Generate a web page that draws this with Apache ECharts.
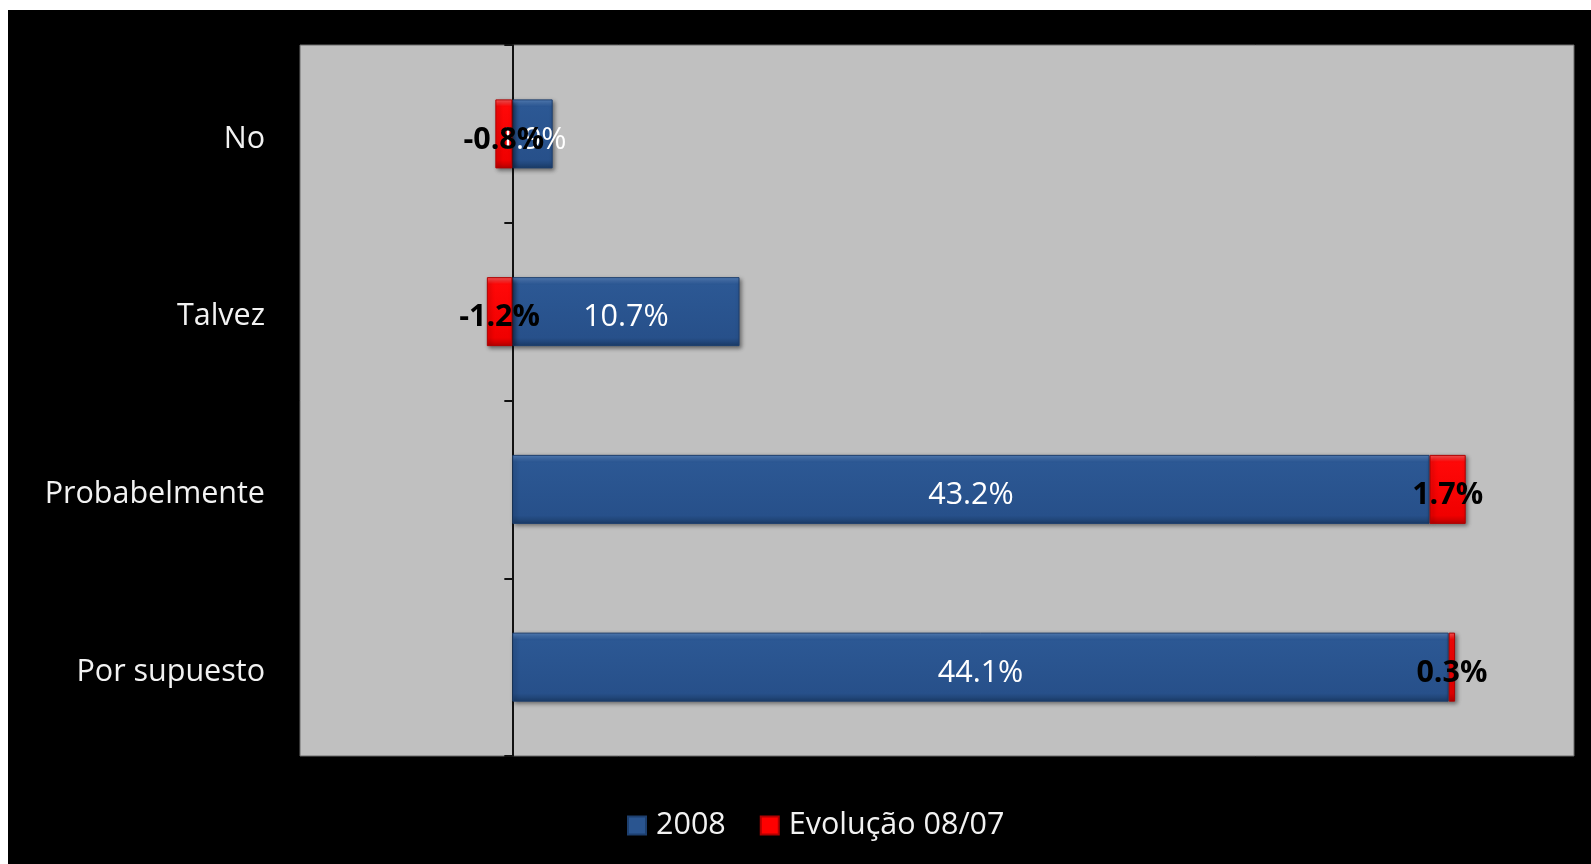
<!DOCTYPE html>
<html>
<head>
<meta charset="utf-8">
<script src="https://cdn.jsdelivr.net/npm/echarts@6/dist/echarts.min.js"></script>
<style>
  html, body { margin: 0; padding: 0; background: #ffffff; }
  #main { position: absolute; left: 8px; top: 10px; width: 1583px; height: 854px; background: #000; }
</style>
</head>
<body>
<div id="main"></div>
<script>
// categorias (de cima para baixo)
var categorias = ['No', 'Talvez', 'Probabelmente', 'Por supuesto'];
var valores2008 = [1.9, 10.7, 43.2, 44.1];
var evolucao = [-0.8, -1.2, 1.7, 0.3];

var myChart = echarts.init(document.getElementById('main'));

var fonte = '"Open Sans", "Noto Sans", sans-serif';
var tamanho = 30.5;

var azul = new echarts.graphic.LinearGradient(0, 0, 0, 1, [
    { offset: 0, color: '#5784c0' },
    { offset: 0.1, color: '#2c5894' },
    { offset: 0.88, color: '#27508a' },
    { offset: 1, color: '#1b3c68' }
]);
var vermelho = new echarts.graphic.LinearGradient(0, 0, 0, 1, [
    { offset: 0, color: '#ff5a5a' },
    { offset: 0.1, color: '#ff0808' },
    { offset: 0.88, color: '#f00000' },
    { offset: 1, color: '#b80000' }
]);

var option = {
    backgroundColor: '#000',
    animation: false,
    grid: {
        left: 292,
        right: 17,
        top: 35,
        bottom: 108,
        show: true,
        backgroundColor: '#c0c0c0',
        borderColor: '#6a6a6a',
        borderWidth: 1
    },
    legend: {
        top: 800,
        left: 619,
        padding: 0,
        itemWidth: 18,
        itemHeight: 18,
        itemGap: 34,
        icon: 'rect',
        textStyle: { color: '#f2f2f2', fontSize: tamanho, fontFamily: fonte, padding: [0, 0, 0, 5] },
        data: [
            { name: '2008', itemStyle: { color: '#2a5590' } },
            { name: 'Evolução 08/07', itemStyle: { color: '#ff0000' } }
        ]
    },
    xAxis: {
        type: 'value',
        min: -10,
        max: 50,
        show: false,
        splitLine: { show: false }
    },
    yAxis: [{
        type: 'category',
        data: categorias,
        inverse: true,
        position: 'left',
        axisLine: { show: false, onZero: false },
        axisTick: { show: false },
        axisLabel: {
            color: '#f2f2f2',
            fontSize: tamanho,
            fontFamily: fonte,
            margin: 35,
            verticalAlign: 'top',
            lineHeight: 10
        }
    }, {
        type: 'category',
        data: categorias,
        inverse: true,
        position: 'left',
        axisLine: { show: true, onZero: true, lineStyle: { color: '#111', width: 2 } },
        axisTick: { show: true, length: 8, lineStyle: { color: '#111', width: 2 } },
        axisLabel: { show: false }
    }],
    series: [{
        name: '2008',
        type: 'bar',
        stack: 'total',
        barWidth: 69,
        data: valores2008,
        itemStyle: {
            color: azul,
            borderColor: '#1d3f6e',
            borderWidth: 1,
            shadowColor: 'rgba(0,0,0,0.45)',
            shadowBlur: 4,
            shadowOffsetX: 2,
            shadowOffsetY: 2
        },
        label: {
            show: true,
            position: 'inside',
            offset: [0, 6],
            color: '#ffffff',
            fontSize: tamanho,
            fontFamily: fonte,
            formatter: function (p) { return p.value.toFixed(1) + '%'; }
        }
    }, {
        name: 'Evolução 08/07',
        type: 'bar',
        stack: 'total',
        barWidth: 69,
        data: evolucao,
        itemStyle: {
            color: vermelho,
            borderColor: '#b00000',
            borderWidth: 1,
            shadowColor: 'rgba(0,0,0,0.45)',
            shadowBlur: 4,
            shadowOffsetX: 2,
            shadowOffsetY: 2
        },
        label: {
            show: true,
            position: 'inside',
            offset: [0, 6],
            color: '#000000',
            fontSize: tamanho,
            fontWeight: 'bold',
            fontFamily: fonte,
            formatter: function (p) { return p.value.toFixed(1) + '%'; }
        }
    }]
};

myChart.setOption(option);
</script>
</body>
</html>
